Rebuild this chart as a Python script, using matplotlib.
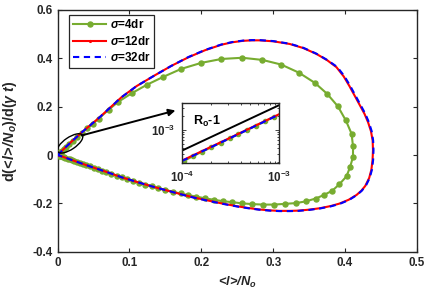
import numpy as np
import matplotlib
matplotlib.use("Agg")
import matplotlib.pyplot as plt
from matplotlib.patches import Ellipse
from matplotlib.transforms import ScaledTranslation
from matplotlib.ticker import FixedLocator, FixedFormatter, NullFormatter

plt.rcParams['font.family'] = ['Liberation Sans', 'DejaVu Sans']
plt.rcParams['font.weight'] = 'bold'
plt.rcParams['axes.labelweight'] = 'bold'
plt.rcParams['mathtext.fontset'] = 'custom'
plt.rcParams['mathtext.rm'] = 'Liberation Sans:bold'
plt.rcParams['mathtext.it'] = 'Liberation Sans:italic:bold'
plt.rcParams['mathtext.bf'] = 'Liberation Sans:bold'
plt.rcParams['mathtext.bfit'] = 'Liberation Sans:italic:bold'

# ---------------- data ----------------
green_x = [0.0, 0.001, 0.002, 0.004, 0.006, 0.009, 0.012, 0.016, 0.021, 0.027, 0.034, 0.041, 0.049,
           0.057, 0.071, 0.084, 0.103, 0.124, 0.147, 0.172, 0.200, 0.228, 0.257,
           0.285, 0.311, 0.336, 0.358, 0.375, 0.390, 0.401, 0.409, 0.411, 0.411, 0.407, 0.402,
           0.392, 0.382, 0.370, 0.359, 0.345, 0.331, 0.316, 0.301, 0.286, 0.271, 0.257,
           0.243, 0.230, 0.217, 0.205, 0.193, 0.182, 0.171, 0.160, 0.150, 0.140, 0.131, 0.122,
           0.113, 0.105, 0.097, 0.089, 0.082, 0.075, 0.068, 0.062, 0.056, 0.050, 0.045, 0.040,
           0.035, 0.031, 0.027, 0.023, 0.020, 0.017, 0.014, 0.011, 0.009, 0.007, 0.005, 0.003,
           0.002, 0.001, 0.0]
green_y = [0.0, 0.0028, 0.0056, 0.011, 0.017, 0.025, 0.033, 0.044, 0.058, 0.074, 0.092, 0.110, 0.130,
           0.150, 0.187, 0.219, 0.255, 0.290, 0.323, 0.356, 0.381, 0.397, 0.402,
           0.393, 0.374, 0.340, 0.298, 0.253, 0.201, 0.143, 0.088, 0.036, -0.008, -0.049, -0.088,
           -0.121, -0.148, -0.166, -0.180, -0.192, -0.199, -0.202, -0.205, -0.205, -0.203, -0.200,
           -0.195, -0.191, -0.185, -0.179, -0.172, -0.166, -0.159, -0.152, -0.144, -0.137, -0.129, -0.122,
           -0.114, -0.107, -0.099, -0.091, -0.085, -0.078, -0.071, -0.065, -0.059, -0.053, -0.047, -0.042,
           -0.037, -0.033, -0.029, -0.025, -0.021, -0.018, -0.015, -0.012, -0.0095, -0.0075, -0.0053, -0.0032,
           -0.0021, -0.0011, 0.0]

red_x = [0.0, 0.005, 0.010, 0.020, 0.035, 0.057, 0.089, 0.110, 0.135, 0.158, 0.182, 0.205, 0.228,
         0.243, 0.258, 0.270, 0.281, 0.300, 0.323, 0.342, 0.360, 0.375, 0.388, 0.398, 0.406,
         0.417, 0.427, 0.432, 0.436, 0.4383, 0.4388, 0.4382, 0.4366, 0.4335, 0.428, 0.4225,
         0.416, 0.405, 0.392, 0.380, 0.365, 0.350, 0.335, 0.323, 0.309, 0.295, 0.280, 0.265,
         0.250, 0.228, 0.198, 0.182, 0.160, 0.135, 0.112, 0.089, 0.066, 0.043, 0.020, 0.008, 0.0]
red_y = [0.0, 0.0145, 0.029, 0.057, 0.097, 0.152, 0.239, 0.285, 0.329, 0.368, 0.404, 0.433, 0.456,
         0.466, 0.472, 0.474, 0.474, 0.470, 0.459, 0.442, 0.418, 0.392, 0.363, 0.325, 0.285,
         0.225, 0.170, 0.135, 0.098, 0.060, 0.020, -0.020, -0.060, -0.095, -0.128, -0.148,
         -0.165, -0.185, -0.201, -0.211, -0.220, -0.226, -0.230, -0.231, -0.231, -0.229, -0.225, -0.219,
         -0.212, -0.200, -0.181, -0.170, -0.153, -0.133, -0.113, -0.092, -0.068, -0.045, -0.021, -0.008, 0.0]

blue_x = [0.0, 0.005, 0.010, 0.020, 0.035, 0.057, 0.089, 0.110, 0.135, 0.158, 0.182, 0.205, 0.228,
          0.243, 0.258, 0.270, 0.281, 0.300, 0.323, 0.342, 0.360, 0.375, 0.389, 0.399, 0.407,
          0.418, 0.428, 0.433, 0.437, 0.4390, 0.4395, 0.4390, 0.4374, 0.4342, 0.4287, 0.4231,
          0.4165, 0.4055, 0.3925, 0.3805, 0.3652, 0.350, 0.335, 0.323, 0.309, 0.295, 0.280, 0.265,
          0.250, 0.228, 0.198, 0.182, 0.160, 0.135, 0.112, 0.089, 0.066, 0.043, 0.020, 0.008, 0.0]
blue_y = [0.0, 0.0145, 0.029, 0.057, 0.097, 0.152, 0.239, 0.285, 0.329, 0.368, 0.405, 0.434, 0.457,
          0.467, 0.473, 0.475, 0.475, 0.471, 0.460, 0.443, 0.419, 0.393, 0.364, 0.326, 0.286,
          0.226, 0.171, 0.136, 0.098, 0.060, 0.020, -0.020, -0.060, -0.095, -0.128, -0.148,
          -0.165, -0.186, -0.202, -0.212, -0.221, -0.227, -0.231, -0.232, -0.232, -0.230, -0.226, -0.220,
          -0.213, -0.201, -0.182, -0.171, -0.153, -0.133, -0.113, -0.092, -0.068, -0.045, -0.021, -0.008, 0.0]

# inset (log-log)
inset_green_x = [1.05e-4, 1.3e-4, 1.6e-4, 2.0e-4, 2.5e-4, 3.1e-4, 3.8e-4, 4.7e-4, 5.8e-4, 7.2e-4, 8.9e-4]
inset_green_y = [2.1e-4, 2.65e-4, 3.3e-4, 4.15e-4, 5.2e-4, 6.5e-4, 8.0e-4, 9.9e-4, 1.23e-3, 1.54e-3, 1.93e-3]
inset_red_x = [1.0e-4, 3.0e-4, 1.0e-3]
inset_red_y = [2.12e-4, 6.4e-4, 2.19e-3]
inset_blue_x = [1.0e-4, 3.0e-4, 1.0e-3]
inset_blue_y = [2.08e-4, 6.3e-4, 2.16e-3]
inset_ref_x = [1.0e-4, 1.0e-3]
inset_ref_y = [3.5e-4, 3.45e-3]

legend_labels = [r'$\mathbfit{\sigma}$=4dr', r'$\mathbfit{\sigma}$=12dr', r'$\mathbfit{\sigma}$=32dr']
xticks = [0, 0.1, 0.2, 0.3, 0.4, 0.5]
xticklabels = ['0', '0.1', '0.2', '0.3', '0.4', '0.5']
yticks = [-0.4, -0.2, 0, 0.2, 0.4, 0.6]
yticklabels = ['-0.4', '-0.2', '0', '0.2', '0.4', '0.6']

GREEN = '#77AC30'
AXC = '#262626'
FS = 8.4

fig = plt.figure(figsize=(4.33, 2.99), dpi=100)
ax = fig.add_axes([0.133, 0.158, 0.830, 0.809])

ax.plot(green_x, green_y, '-o', color=GREEN, lw=1.5, ms=3.6, label=legend_labels[0], zorder=3)
ax.plot(red_x, red_y, '-', color='red', lw=1.5, marker='.', ms=2.5, markevery=[0], label=legend_labels[1], zorder=4)
ax.plot(blue_x, blue_y, '--', color='blue', lw=1.5, dashes=(3, 2.2), label=legend_labels[2], zorder=5)

ax.set_xlim(0, 0.5)
ax.set_ylim(-0.4, 0.6)
ax.set_xticks(xticks)
ax.set_xticklabels(xticklabels)
ax.set_yticks(yticks)
ax.set_yticklabels(yticklabels)
ax.tick_params(direction='in', top=True, right=True, labelsize=FS, colors=AXC, length=3, width=0.8, pad=3.5)
for t in ax.get_xticklabels() + ax.get_yticklabels():
    t.set_fontweight('bold')
for s in ax.spines.values():
    s.set_linewidth(1.0)
    s.set_color(AXC)

ax.set_xlabel(r'<l>/N$_o$', fontstyle='italic', fontweight='bold', fontsize=9.3, color=AXC)
ax.xaxis.set_label_coords(0.5, -0.095)
ax.set_ylabel(r'd($\!\mathbfit{<}\!\mathbfit{l}\!\mathbfit{>}\!\mathbfit{/N}_{\mathbfit{o}}$)/d($\mathbfit{\gamma}$ $\mathbfit{t}$)',
              fontsize=10.3, fontweight='bold', color=AXC)
ax.yaxis.set_label_coords(-0.108, 0.5)

leg = ax.legend(loc='upper left', bbox_to_anchor=(0.032, 0.979), borderaxespad=0, fancybox=False,
                edgecolor=AXC, framealpha=1, fontsize=FS, handlelength=2.9, labelspacing=0.3,
                handletextpad=0.3, borderpad=0.3)
leg.get_frame().set_linewidth(0.9)
for t in leg.get_texts():
    t.set_fontweight('bold')

# ellipse and arrow
ell = Ellipse((0, 0), 0.296, 0.12, angle=34, fill=False, ec='black', lw=1.0,
              transform=fig.dpi_scale_trans + ScaledTranslation(0.0174, 0.048, ax.transData),
              zorder=6)
ax.add_patch(ell)
ax.annotate('', xy=(0.164, 0.184), xytext=(0.0336, 0.081),
            arrowprops=dict(arrowstyle='-|>', color='black', lw=1.4, mutation_scale=10,
                            shrinkA=0, shrinkB=0), zorder=6)

# inset
ins = fig.add_axes([0.420, 0.455, 0.225, 0.200])
ins.plot(inset_green_x, inset_green_y, '-o', color=GREEN, lw=1.5, ms=3.0)
ins.plot(inset_red_x, inset_red_y, '-', color='red', lw=1.5)
ins.plot(inset_blue_x, inset_blue_y, '--', color='blue', lw=1.5, dashes=(3, 2.2))
ins.plot(inset_ref_x, inset_ref_y, '-', color='black', lw=1.4)
ins.set_xscale('log')
ins.set_yscale('log')
ins.set_xlim(1e-4, 1e-3)
ins.set_ylim(1.89e-4, 3.8e-3)
ins.xaxis.set_major_locator(FixedLocator([1e-4, 1e-3]))
ins.xaxis.set_major_formatter(FixedFormatter([r'$\mathbf{10^{-4}}$', r'$\mathbf{10^{-3}}$']))
ins.yaxis.set_major_locator(FixedLocator([1e-3]))
ins.yaxis.set_major_formatter(FixedFormatter([r'$\mathbf{10^{-3}}$']))
ins.xaxis.set_minor_formatter(NullFormatter())
ins.yaxis.set_minor_formatter(NullFormatter())
ins.tick_params(which='both', direction='in', top=True, right=True, labelsize=FS, colors=AXC, width=0.6)
ins.tick_params(which='major', length=3, pad=5)
ins.tick_params(which='minor', length=1.6)
for s in ins.spines.values():
    s.set_linewidth(1.0)
    s.set_color(AXC)
ins.text(0.11, 0.70, r'R$_\mathregular{o}$-1', transform=ins.transAxes, fontsize=9, fontweight='bold',
         ha='left', va='center')

fig.savefig('out.png', dpi=100)
